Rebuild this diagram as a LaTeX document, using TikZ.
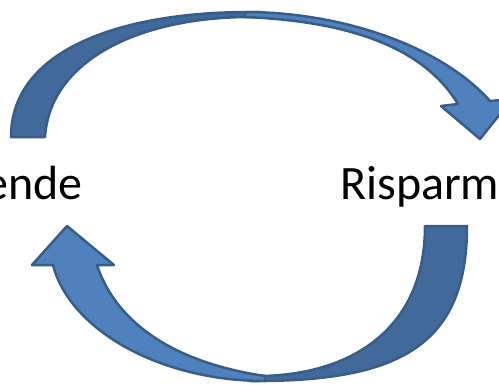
\documentclass[tikz,border=0pt]{standalone}
\usepackage{fontspec}
\setmainfont{Carlito}
\usetikzlibrary{calc}
\usetikzlibrary{positioning}

\definecolor{faceblue}{HTML}{4F81BD}
\definecolor{shadeblue}{HTML}{41699A}
\definecolor{rimblue}{HTML}{385D8A}

\begin{document}
\begin{tikzpicture}[x=1pt,y=-1pt]
% 1 = 1px of the reference, y runs down
    \def\WIDTH{499}
    \def\HEIGHT{384}
    \def\RIM{2.5pt} %outline of the arrows

    \tikzset{
      front face/.style={fill=faceblue, draw=rimblue,
        line width=\RIM, line join=round},
      back face/.style={fill=shadeblue, draw=rimblue,
        line width=\RIM, line join=round},
      word/.style={inner sep=0pt, font=\fontsize{48}{56}\selectfont},
    }

    \useasboundingbox (0,0) rectangle (\WIDTH,\HEIGHT);
    \clip (0,0) rectangle (\WIDTH,\HEIGHT);

    % TOP ARROW (BACK)
    \draw[back face] (11,137) .. controls (11,50) and (120,12) .. (250,12)
        -- (262,12) -- (262,17) -- (250,17)
        .. controls (140,17) and (50,60) .. (45,137) -- cycle;

    % TOP ARROW (FRONT)
    \draw[front face] (458,104) -- (441,106) -- (480,139) -- (512,99)
        -- (490,101) .. controls (440,45) and (340,12) .. (245,12)
        -- (245,17) .. controls (370,22) and (430,58) .. (458,104) -- cycle;

    % BOTTOM ARROW (BACK)
    \draw[back face] (425,226) -- (467,226)
        .. controls (467,345) and (400,381) .. (256,381)
        -- (250,381) -- (250,376) -- (260,376)
        .. controls (350,375) and (425,330) .. (425,226) -- cycle;

    % BOTTOM ARROW (FRONT)
    \draw[front face] (67,226) -- (114,265) -- (97,265)
        .. controls (115,320) and (170,362) .. (265,376)
        -- (265,381) .. controls (160,381) and (70,330) .. (53,265)
        -- (32,265) -- cycle;

    % LABELS
    \node[word, anchor=base east] (ende) at (83,199) {ende};
    \node[word, anchor=base west] (risparm) at (340,199) {Risparm};

\end{tikzpicture}
\end{document}
